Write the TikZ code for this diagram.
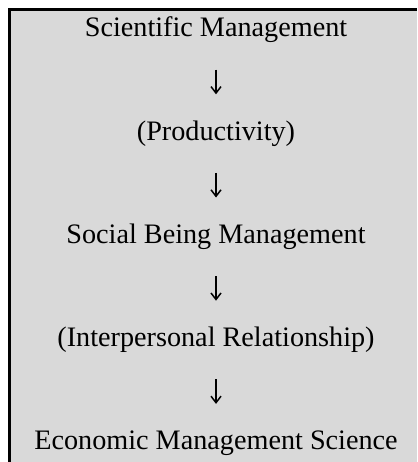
\documentclass[tikz,border=0pt]{standalone}
\usepackage{fontspec}
\usetikzlibrary{arrows.meta}
\setmainfont{Liberation Serif}
\definecolor{panelgray}{RGB}{217,217,217}
\begin{document}
\begin{tikzpicture}[x=1pt,y=-1pt,
  stage/.style={anchor=base,inner sep=0pt,font=\fontsize{28.2}{34}\selectfont},
  flow/.style={line width=1.3pt,-{Straight Barb[length=6.5pt,width=10pt,line width=1.5pt]}}]
  \useasboundingbox (0,0) rectangle (417,462);
  % shaded panel with its top and left rules
  \fill[panelgray] (9.25,9.6) rectangle (417,462);
  \draw[line width=2.6pt,line join=miter] (9.25,462) -- (9.25,9.6) -- (417,9.6);
  % stages
  \node[stage] (s1) at (216,37)    {Scientific Management};
  \node[stage] (s2) at (216,140.2) {(Productivity)};
  \node[stage] (s3) at (216,243.4) {Social Being Management};
  \node[stage] (s4) at (216,346.6) {(Interpersonal Relationship)};
  \node[stage] (s5) at (216,449.8) {Economic Management Science};
  % arrow ends between consecutive stages
  \coordinate (a1from) at (216,69.6);  \coordinate (a1to) at (216,94.3);
  \coordinate (a2from) at (216,172.8); \coordinate (a2to) at (216,197.5);
  \coordinate (a3from) at (216,276);   \coordinate (a3to) at (216,300.7);
  \coordinate (a4from) at (216,379.2); \coordinate (a4to) at (216,403.9);
  \draw[flow] (a1from) -- (a1to);
  \draw[flow] (a2from) -- (a2to);
  \draw[flow] (a3from) -- (a3to);
  \draw[flow] (a4from) -- (a4to);
\end{tikzpicture}
\end{document}
